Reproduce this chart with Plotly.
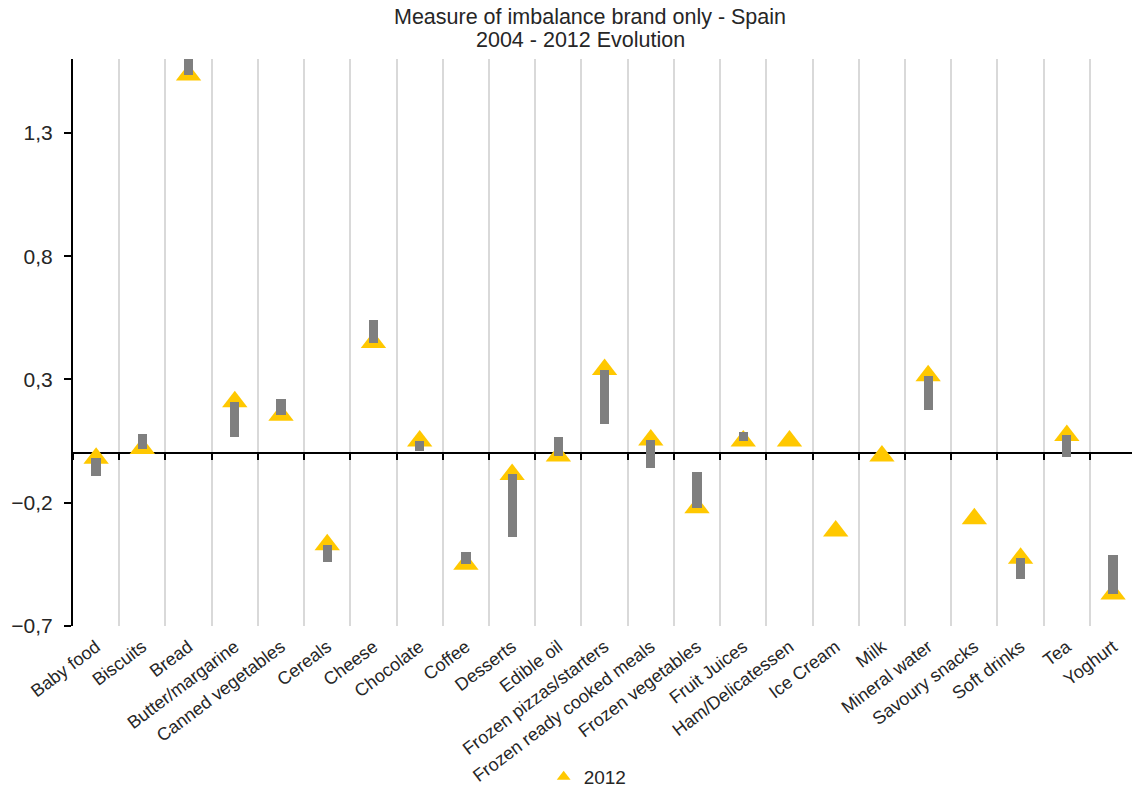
import plotly.graph_objects as go

categories = [
    "Baby food", "Biscuits", "Bread", "Butter/margarine", "Canned vegetables",
    "Cereals", "Cheese", "Chocolate", "Coffee", "Desserts", "Edible oil",
    "Frozen pizzas/starters", "Frozen ready cooked meals", "Frozen vegetables",
    "Fruit Juices", "Ham/Delicatessen", "Ice Cream", "Milk", "Mineral water",
    "Savoury snacks", "Soft drinks", "Tea", "Yoghurt",
]

# imbalance measure in 2004 (start of the grey bar)
values_2004 = [
    -0.09, 0.08, 1.70, 0.065, 0.22,
    -0.44, 0.54, 0.01, -0.40, -0.34, 0.065,
    0.12, -0.06, -0.075,
    0.088, 0.05, -0.315, -0.01, 0.176,
    -0.265, -0.51, -0.015, -0.41,
]

# imbalance measure in 2012 (triangle marker)
values_2012 = [
    -0.02, 0.02, 1.535, 0.21, 0.155,
    -0.37, 0.45, 0.05, -0.45, -0.085, -0.01,
    0.34, 0.055, -0.22,
    0.05, 0.05, -0.315, -0.01, 0.315,
    -0.265, -0.425, 0.073, -0.57,
]

y_ticks = [-0.7, -0.2, 0.3, 0.8, 1.3]
y_min, y_max = -0.7, 1.6

change = [b - a for a, b in zip(values_2004, values_2012)]

FONT = "Liberation Sans, Arial, sans-serif"
TEXT = "#262626"

fig = go.Figure()

fig.add_trace(go.Bar(
    x=categories,
    y=change,
    base=values_2004,
    width=0.2,
    marker=dict(color="#7f7f7f", line=dict(width=0)),
    showlegend=False,
    hoverinfo="skip",
    xaxis="x2",
    yaxis="y",
))

fig.add_trace(go.Scatter(
    x=categories,
    y=values_2012,
    mode="markers",
    name="2012",
    marker=dict(symbol="triangle-up", size=22, color="#FFC800", line=dict(width=0)),
    xaxis="x",
    yaxis="y",
))

x_range = [-0.5, len(categories) - 0.59]

fig.update_layout(
    width=1132,
    height=788,
    margin=dict(l=73, r=0, t=59, b=162, autoexpand=False),
    paper_bgcolor="white",
    plot_bgcolor="white",
    separators=", ",
    font=dict(family=FONT, size=18, color=TEXT),
    title=dict(
        text="Measure of imbalance brand only - Spain",
        x=590 / 1132, xanchor="center",
        yref="container", y=1 - 16 / 788, yanchor="middle",
        font=dict(family=FONT, size=21.5, color=TEXT),
    ),
    annotations=[dict(
        text="2004 - 2012 Evolution",
        xref="paper", yref="paper",
        x=(580 - 73) / 1059, xanchor="center",
        y=1 + (59 - 40) / 567, yanchor="middle",
        showarrow=False,
        font=dict(family=FONT, size=21.5, color=TEXT),
    )],
    xaxis=dict(
        type="category",
        categoryorder="array",
        categoryarray=categories,
        range=x_range,
        automargin=False,
        showgrid=True,
        gridcolor="#d9d9d9",
        gridwidth=2,
        tickson="boundaries",
        ticks="",
        showline=False,
        zeroline=False,
        tickangle=-37,
        ticklabelstandoff=6,
        tickfont=dict(family=FONT, size=18, color=TEXT),
    ),
    xaxis2=dict(
        type="category",
        categoryorder="array",
        categoryarray=categories,
        range=x_range,
        overlaying="x",
        anchor="free",
        position=(0 - y_min) / (y_max - y_min),
        side="bottom",
        automargin=False,
        showgrid=False,
        showticklabels=False,
        tickson="boundaries",
        ticks="outside",
        ticklen=6,
        tickwidth=2,
        tickcolor="black",
        showline=False,
        zeroline=False,
    ),
    yaxis=dict(
        range=[y_min, y_max],
        tickvals=y_ticks,
        tickformat=".1f",
        automargin=False,
        showgrid=False,
        showline=True,
        linecolor="black",
        linewidth=2,
        ticks="outside",
        ticklen=7,
        tickwidth=2,
        tickcolor="black",
        zeroline=True,
        zerolinecolor="black",
        zerolinewidth=2,
        ticklabelstandoff=7,
        tickfont=dict(family=FONT, size=21, color=TEXT),
    ),
    legend=dict(
        orientation="h",
        x=0.486, xanchor="center",
        y=-0.266, yanchor="middle",
        font=dict(family=FONT, size=19, color=TEXT),
        itemwidth=30,
        itemsizing="constant",
    ),
    bargap=0,
)

fig.write_html("out.html")
